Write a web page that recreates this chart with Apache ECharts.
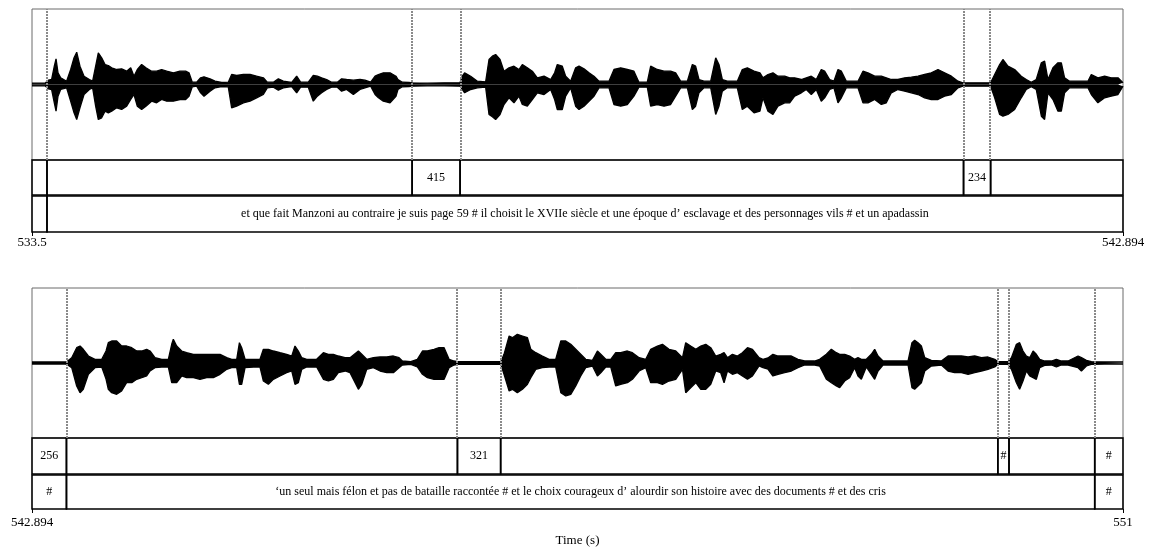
<!DOCTYPE html>
<html><head><meta charset="utf-8">
<script src="https://cdn.jsdelivr.net/npm/echarts@6/dist/echarts.min.js"></script>
<style>html,body{margin:0;padding:0;background:#fff}#c{width:1150px;height:548px}</style>
</head><body><div id="c"></div>
<script>
const FONT = "'Liberation Serif','Times New Roman',serif";

// time ranges of the two panels (s)
const range1 = [533.5, 542.894];
const range2 = [542.894, 551];
const tickLabels1 = ['533.5', '542.894'];
const tickLabels2 = ['542.894', '551'];
const axisTitle = 'Time (s)';

// tiers: [start, end, label]
const pauseTier1 = [
  [533.5, 533.629, ''], [533.629, 536.773, ''], [536.773, 537.186, '415'],
  [537.186, 541.521, ''], [541.521, 541.754, '234'], [541.754, 542.894, '']
];
const textTier1 = [
  [533.5, 533.629, ''],
  [533.629, 542.894, 'et que fait Manzoni au contraire je suis page 59 # il choisit le XVIIe siècle et une époque d’ esclavage et des personnages vils # et un apadassin']
];
const pauseTier2 = [
  [542.894, 543.150, '256'], [543.150, 546.055, ''], [546.055, 546.376, '321'],
  [546.376, 550.070, ''], [550.070, 550.153, '#'], [550.153, 550.790, ''], [550.790, 551, '#']
];
const textTier2 = [
  [542.894, 543.150, '#'],
  [543.150, 550.790, '‘un seul mais félon et pas de bataille raccontée # et le choix courageux d’ alourdir son histoire avec des documents # et des cris'],
  [550.790, 551, '#']
];

// waveform envelope: [time, upper, lower] (arbitrary amplitude units)
const wave1 = [
[533.500,1.3,-1.3],[533.612,1.3,-1.3],[533.641,4.3,-4.3],[533.669,5,-5],[533.692,18.3,-18.3],[533.707,25.7,-26.7],
[533.724,11.7,-11.7],[533.747,6.7,-5],[533.798,3.3,-3.3],[533.833,15,-16.7],[533.862,26.7,-28.3],[533.885,32.3,-35],
[533.913,18.3,-23.3],[533.948,8.3,-10],[533.994,5,-5],[534.022,3.3,-3.3],[534.048,18.3,-21.7],[534.071,31.7,-35],
[534.100,26.7,-33.3],[534.129,20,-26.7],[534.157,19,-28.3],[534.186,16.7,-26.7],[534.229,15,-23.3],[534.272,15.7,-25],
[534.315,13.3,-21.7],[534.350,16.7,-15],[534.378,8.3,-10],[534.407,15,-21.7],[534.444,20,-25],[534.481,16.7,-21.7],
[534.530,13.3,-16.7],[534.573,13.3,-18.3],[534.616,15,-15],[534.660,13.3,-16.7],[534.717,11.7,-16.7],[534.774,13.3,-15],
[534.823,13.3,-15],[534.852,11.7,-11.7],[534.880,2.3,-2.3],[534.918,2.3,-1.7],[534.952,6.7,-8.3],[534.981,7.7,-11.7],
[535.033,5.7,-6.7],[535.076,3.3,-3.3],[535.133,2,-2],[535.190,2.3,-2.3],[535.219,10,-23.3],[535.262,9,-21.7],
[535.320,10,-18.3],[535.377,10,-16.7],[535.434,8.3,-13.3],[535.492,6.7,-10],[535.526,2.3,-3.3],[535.578,2.3,-2.7],
[535.621,5.7,-5.7],[535.664,3.3,-3.3],[535.736,2,-2],[535.779,8.3,-8.3],[535.813,2.3,-2.7],[535.879,2.3,-2.7],
[535.922,9,-16.7],[535.957,8.3,-11.7],[535.994,6.7,-8.3],[536.037,5,-5],[536.080,2.3,-2.7],[536.129,2.3,-2.7],
[536.166,5.7,-6.7],[536.209,5,-5],[536.267,4.3,-10],[536.324,5,-5],[536.367,4.3,-3.3],[536.416,2.3,-1.7],
[536.454,8.3,-10],[536.483,10,-13.3],[536.525,11.7,-16.7],[536.583,11.7,-18.3],[536.634,8.3,-11.7],[536.651,5,-5],
[536.689,2.3,-2.3],[536.746,2,-2],[536.775,1.7,-1.7],[536.904,1.3,-1.3],[537.048,1.7,-1.3],[537.185,1.7,-1.7],
[537.205,8.3,-5],[537.225,11.7,-8.3],[537.277,8.3,-5],[537.335,3.3,-3.3],[537.406,2.7,-2.7],[537.435,25,-30],
[537.464,28.3,-32.3],[537.492,30,-35],[537.530,25,-30],[537.564,13.3,-20],[537.607,16.7,-13.3],[537.650,18.3,-18.3],
[537.693,15,-11.7],[537.722,20,-20],[537.765,16.7,-21.7],[537.808,13.3,-15],[537.851,6.7,-8.3],[537.909,8.3,-10],
[537.966,5,-5],[538.000,11.7,-15],[538.023,20,-25],[538.066,18.3,-25],[538.095,8.3,-11.7],[538.138,3.3,-3.3],
[538.181,16.7,-21.7],[538.210,18.3,-25],[538.253,15.7,-21.7],[538.296,11.7,-16.7],[538.339,8.3,-11.7],[538.382,3.3,-3.3],
[538.468,3.3,-3.3],[538.511,15,-20],[538.569,16.7,-21.7],[538.626,15,-20],[538.683,13.3,-11.7],[538.726,2.3,-2.7],
[538.798,2.3,-2.7],[538.827,18.3,-21.7],[538.884,15,-20],[538.942,13.3,-21.7],[538.999,13.3,-20],[539.042,11.7,-11.7],
[539.085,3.3,-3.3],[539.143,3.3,-3.3],[539.186,20,-25],[539.214,18.3,-21.7],[539.243,5,-8.3],[539.286,3.3,-3.3],
[539.344,3.3,-3.3],[539.387,26.7,-30],[539.415,20,-21.7],[539.444,5,-6.7],[539.487,3.3,-3.3],[539.573,3.3,-3.3],
[539.616,15,-25],[539.659,16.7,-21.7],[539.717,13.3,-28.3],[539.768,11.7,-26.7],[539.794,6.7,-13.3],[539.837,10,-26.7],
[539.880,11.7,-30],[539.923,8.3,-21.7],[539.981,8.3,-18.3],[540.024,6.7,-18.3],[540.067,6.7,-11.7],[540.124,5,-8.3],
[540.167,6.7,-5],[540.210,8.3,-10],[540.253,5,-5],[540.296,15,-16.7],[540.325,13.3,-13.3],[540.368,5,-5],
[540.405,3.3,-3.3],[540.440,15,-18.3],[540.469,13.3,-13.3],[540.512,3.3,-3.3],[540.612,3.3,-3.3],[540.655,13.3,-18.3],
[540.698,11.7,-18.3],[540.756,8.3,-15],[540.813,8.3,-20],[540.856,6.7,-18.3],[540.899,5,-8.3],[540.956,5,-5],
[541.014,6.7,-6.7],[541.071,7.3,-8.3],[541.129,8.3,-10],[541.186,10,-13.3],[541.243,11.7,-15],[541.301,15,-15],
[541.358,11.7,-11.7],[541.416,8.3,-10],[541.473,3.3,-3.3],[541.516,1.7,-1.7],[541.645,1.7,-1.7],[541.754,1.7,-1.7],
[541.789,10,-13.3],[541.832,20,-30],[541.860,25,-31.7],[541.903,18.3,-30],[541.961,15,-25],[542.018,8.3,-13.3],
[542.061,5,-5],[542.104,2.3,-2.3],[542.147,5,-5],[542.191,21.7,-31.7],[542.219,23.3,-35],[542.248,5,-8.3],
[542.291,16.7,-15],[542.334,21.7,-26.7],[542.363,21.7,-26.7],[542.391,6.7,-8.3],[542.434,3.3,-3.3],[542.592,3.3,-3.3],
[542.621,10,-10],[542.678,6.7,-18.3],[542.736,8.3,-13.3],[542.793,6.7,-11.7],[542.851,6.7,-10],[542.894,1.7,-1.7]
];
const wave2 = [
[542.894,1,-1],[543.028,1,-1],[543.139,1,-1],[543.157,1.7,-1.7],[543.189,5.3,-4.7],[543.226,15.3,-23],
[543.251,17,-29.7],[543.275,13.7,-26.3],[543.313,7,-11.3],[543.362,3.7,-4.7],[543.412,3.7,-4],[543.444,12,-16],
[543.461,20.3,-26.3],[543.486,22,-29.7],[543.523,22,-31.3],[543.560,17,-28],[543.597,17,-19.7],[543.635,15.3,-19.7],
[543.672,12,-16.3],[543.709,12,-14.7],[543.746,13.7,-13],[543.771,12,-8],[543.808,5.3,-4.7],[543.858,3.7,-4],
[543.907,3.7,-4],[543.932,18.7,-19.7],[543.944,23.7,-21.3],[543.969,17,-19.7],[544.006,12,-13],[544.043,10.3,-14.7],
[544.093,8.7,-14.7],[544.142,8.7,-16.3],[544.192,8.7,-14.7],[544.241,8.7,-14.7],[544.291,8.7,-11.3],[544.341,5.3,-6.3],
[544.378,3.7,-4.7],[544.415,3.7,-4.7],[544.435,20.3,-21.3],[544.452,15.3,-21.3],[544.477,3.7,-4.7],[544.539,3.7,-4],
[544.588,3.7,-4],[544.613,13.7,-18],[544.650,13.7,-21.3],[544.687,12,-16.3],[544.737,10.3,-13],[544.786,8.7,-9.7],
[544.824,7,-8],[544.848,17,-21.3],[544.873,12,-19.7],[544.898,5.3,-6.3],[544.935,3.7,-4],[545.009,3.7,-4],
[545.059,10.3,-16.3],[545.096,8.7,-18],[545.133,8.7,-16.3],[545.170,7,-9.7],[545.220,5.3,-8],[545.257,5.3,-9.7],
[545.319,12,-26.3],[545.344,8.7,-21.3],[545.381,3.7,-6.3],[545.430,5.3,-4.7],[545.480,6,-8],[545.530,6,-9.7],
[545.579,7,-9.7],[545.621,5.3,-4.7],[545.646,2,-2],[545.708,1.3,-1.3],[545.757,3.7,-4],[545.795,12,-11.3],
[545.832,12,-14.7],[545.881,13.7,-16.3],[545.918,15.3,-16.3],[545.956,15.3,-16.3],[545.993,3.7,-4.7],[546.030,2,-2],
[546.055,1.3,-1.3],[546.216,1.3,-1.3],[546.377,1.3,-1.3],[546.401,8.7,-11.3],[546.439,27,-28],[546.463,25.3,-26.3],
[546.500,28.7,-29.7],[546.538,27,-26.3],[546.575,25.3,-21.3],[546.600,13.7,-14.7],[546.637,10.3,-6.3],[546.686,7,-4.7],
[546.736,3.7,-4],[546.785,3.7,-4],[546.823,22,-29.7],[546.860,22,-33],[546.897,18.7,-31.3],[546.934,13.7,-23],
[546.971,8.7,-13],[547.008,3.7,-4.7],[547.058,2.7,-3],[547.095,12,-13],[547.120,8.7,-9.7],[547.157,3.7,-4],
[547.194,3.7,-4],[547.231,10.3,-23],[547.268,10.3,-21.3],[547.318,12,-19.7],[547.355,10.3,-16.3],[547.405,5.3,-8],
[547.454,3.7,-4.7],[547.491,13.7,-19.7],[547.541,17,-19.7],[547.578,18.7,-21.3],[547.627,13.7,-18],[547.677,12,-16.3],
[547.727,5.3,-6.3],[547.751,20.3,-29.7],[547.788,17,-24.7],[547.826,13.7,-19.7],[547.863,17,-26.3],[547.900,18.7,-26.3],
[547.937,15.3,-21.3],[547.974,7,-8],[548.011,8.7,-9.7],[548.036,10.3,-19.7],[548.061,5.3,-8],[548.098,8.7,-11.3],
[548.135,7,-9.7],[548.172,10.3,-13],[548.210,15.3,-16.3],[548.247,13.7,-13],[548.296,5.3,-3],[548.325,3.7,-4.7],
[548.362,5,-6],[548.399,8.7,-13],[548.437,7,-11.3],[548.486,7,-9.7],[548.536,7,-8],[548.585,3.7,-4.7],
[548.635,2,-2],[548.709,2,-2],[548.746,3.7,-3],[548.796,8.7,-16.3],[548.833,13.7,-19.7],[548.870,10.3,-23],
[548.895,8.7,-24.7],[548.932,8.7,-18],[548.969,7,-14.7],[549.006,3.7,-4.7],[549.031,5.3,-13],[549.056,3.7,-16.3],
[549.093,3.7,-4],[549.130,8.7,-11.3],[549.155,13.7,-16.3],[549.180,7,-8],[549.217,2,-2],[549.279,2,-2],
[549.403,2,-2],[549.432,20.3,-24.7],[549.452,22.7,-26.3],[549.477,20.3,-23],[549.502,17,-19.7],[549.527,5.3,-8],
[549.576,2.7,-3],[549.650,2,-2],[549.700,7,-8],[549.749,7,-9.7],[549.799,7,-9.7],[549.849,6,-11.3],
[549.898,7,-9.7],[549.948,5.3,-8],[549.997,6,-6.3],[550.047,3.7,-4],[550.071,1.3,-1.3],[550.146,1.3,-1.3],
[550.171,5.3,-6.3],[550.208,18.7,-19.7],[550.232,20.3,-26.3],[550.257,12,-18],[550.282,7,-8],[550.307,5.3,-13],
[550.332,12,-14.7],[550.356,8.7,-16.3],[550.381,3.7,-4.7],[550.418,2,-2.3],[550.468,2,-2],[550.505,3.7,-4],
[550.542,2,-2],[550.592,2,-2],[550.666,7,-4.7],[550.691,5.3,-8],[550.728,2.7,-3],[550.765,1.3,-1.3],
[550.864,1,-1],[551.000,1,-1]
];

const panels = [
  { range: range1, wave: wave1, pause: pauseTier1, text: textTier1, ticks: tickLabels1,
    waveTop: 9, waveH: 151, tierATop: 160, tierAH: 35, tierBTop: 196, tierBH: 36, name: '', labelMargin: 4 },
  { range: range2, wave: wave2, pause: pauseTier2, text: textTier2, ticks: tickLabels2,
    waveTop: 288, waveH: 150, tierATop: 438, tierAH: 36, tierBTop: 475, tierBH: 37, name: axisTitle, labelMargin: 7 }
];

const grids = [], xAxes = [], yAxes = [], series = [];

function boundariesOf(rows, range) {
  const s = new Set();
  rows.forEach(r => { [r[0], r[1]].forEach(v => { if (v > range[0] + 1e-9 && v < range[1] - 1e-9) s.add(v); }); });
  return Array.from(s).sort((a, b) => a - b);
}

function tierSeries(idx, rows) {
  return {
    type: 'custom', xAxisIndex: idx, yAxisIndex: idx, silent: true, animation: false, clip: false,
    data: rows.map(r => [r[0], r[1]]),
    encode: { x: [0, 1] },
    renderItem(params, api) {
      const s = api.value(0), e = api.value(1);
      const p0 = api.coord([s, 1]);
      const p1 = api.coord([e, 0]);
      const label = rows[params.dataIndex][2];
      return {
        type: 'group',
        children: [
          { type: 'rect', shape: { x: p0[0], y: p0[1], width: p1[0] - p0[0], height: p1[1] - p0[1] },
            style: { fill: 'none', stroke: '#000', lineWidth: 1.6 } },
          { type: 'text', x: (p0[0] + p1[0]) / 2, y: (p0[1] + p1[1]) / 2,
            style: { text: label, font: '12px ' + FONT, fill: '#000', align: 'center', verticalAlign: 'middle' } }
        ]
      };
    }
  };
}

panels.forEach((p, k) => {
  const base = k * 3;
  grids.push({ left: 32, width: 1091, top: p.waveTop, height: p.waveH, show: true,
               borderColor: '#6a6a6a', borderWidth: 1, backgroundColor: 'transparent' });
  grids.push({ left: 32, width: 1091, top: p.tierATop, height: p.tierAH });
  grids.push({ left: 32, width: 1091, top: p.tierBTop, height: p.tierBH });
  for (let g = 0; g < 3; g++) {
    const isBottom = g === 2;
    xAxes.push({
      gridIndex: base + g, type: 'value', min: p.range[0], max: p.range[1],
      show: isBottom,
      axisLine: { show: false }, splitLine: { show: false },
      axisTick: isBottom ? { show: true, customValues: p.range, length: 4, lineStyle: { color: '#000', width: 1 } } : { show: false },
      axisLabel: isBottom ? {
        show: true, customValues: p.range, margin: p.labelMargin,
        fontFamily: FONT, fontSize: 13, color: '#000',
        formatter: v => { const i = p.range.findIndex(x => Math.abs(x - v) < 1e-6); return i >= 0 ? p.ticks[i] : ''; }
      } : { show: false },
      name: isBottom ? p.name : '', nameLocation: 'middle', nameGap: 25,
      nameTextStyle: { fontFamily: FONT, fontSize: 13, color: '#000' }
    });
    yAxes.push(g === 0
      ? { gridIndex: base, type: 'value', min: -p.waveH / 2, max: p.waveH / 2, show: false }
      : { gridIndex: base + g, type: 'value', min: 0, max: 1, show: false });
  }
  const bounds = boundariesOf(p.pause.concat(p.text), p.range);
  series.push({
    type: 'line', xAxisIndex: base, yAxisIndex: base, data: p.wave.map(r => [r[0], r[1]]),
    symbol: 'none', smooth: false, animation: false, silent: true, z: 2,
    lineStyle: { color: '#000', width: 1.3 }, areaStyle: { color: '#000', opacity: 1 },
    markLine: {
      silent: true, symbol: ['none', 'none'], animation: false, label: { show: false }, z: 5,
      lineStyle: { type: [2, 1], color: '#8a8a8a', width: 2 },
      data: bounds.map(b => ({ xAxis: b }))
    }
  });
  series.push({
    type: 'line', xAxisIndex: base, yAxisIndex: base, data: p.wave.map(r => [r[0], r[2]]),
    symbol: 'none', smooth: false, animation: false, silent: true, z: 2,
    lineStyle: { color: '#000', width: 1.3 }, areaStyle: { color: '#000', opacity: 1 }
  });
  series.push(tierSeries(base + 1, p.pause));
  series.push(tierSeries(base + 2, p.text));
});

const chart = echarts.init(document.getElementById('c'), null, { renderer: 'canvas' });
chart.setOption({
  backgroundColor: '#fff',
  animation: false,
  grid: grids, xAxis: xAxes, yAxis: yAxes, series: series
});
</script>
</body></html>
